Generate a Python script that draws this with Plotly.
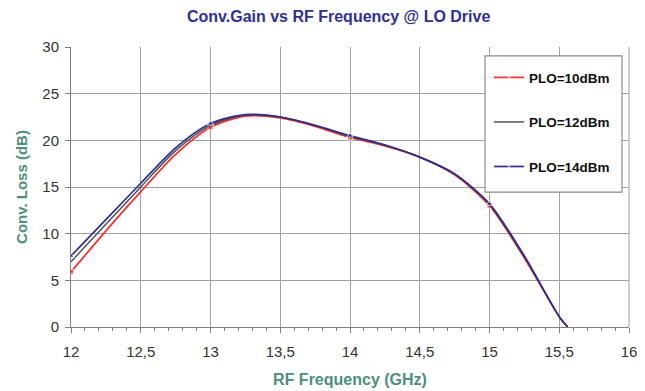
import plotly.graph_objects as go

# RF frequency sample points (GHz)
freq = [12.0, 12.25, 12.5, 12.75, 13.0, 13.25, 13.5, 13.75, 14.0, 14.25,
        14.5, 14.75, 15.0, 15.25, 15.5, 15.56]

# Conversion gain (dB) per LO drive level
plo10 = [5.9, 10.3, 14.5, 18.5, 21.4, 22.6, 22.4, 21.5, 20.3, 19.4,
         18.2, 16.3, 13.0, 7.4, 1.1, 0.0]
plo12 = [7.0, 11.0, 15.0, 18.9, 21.6, 22.7, 22.5, 21.6, 20.4, 19.5,
         18.2, 16.4, 13.1, 7.5, 1.1, 0.0]
plo14 = [7.6, 11.5, 15.4, 19.2, 21.8, 22.75, 22.5, 21.6, 20.5, 19.5,
         18.2, 16.4, 13.2, 7.6, 1.1, 0.0]

series_names = ["PLO=10dBm", "PLO=12dBm", "PLO=14dBm"]

x_tickvals = [12, 12.5, 13, 13.5, 14, 14.5, 15, 15.5, 16]
x_ticktext = ["12", "12,5", "13", "13,5", "14", "14,5", "15", "15,5", "16"]
y_tickvals = [0, 5, 10, 15, 20, 25, 30]

FONT = "Arial, Liberation Sans, sans-serif"

# markers only on the whole-GHz measurement points
def marker_sizes(size):
    return [size if float(f).is_integer() else 0 for f in freq]

fig = go.Figure()
fig.add_trace(go.Scatter(
    x=freq, y=plo10, name=series_names[0], mode="lines+markers", legendgroup="a",
    line=dict(color="#FF2A2A", width=1.7, shape="spline", smoothing=0.8),
    marker=dict(symbol="square", size=marker_sizes(5), color="#FF2A2A"),
))
fig.add_trace(go.Scatter(
    x=freq, y=plo12, name=series_names[1], mode="lines", legendgroup="b",
    line=dict(color="#4A4A4A", width=1.4, shape="spline", smoothing=0.8),
))
fig.add_trace(go.Scatter(
    x=freq, y=plo14, name=series_names[2], mode="lines+markers", legendgroup="c",
    line=dict(color="#2E2E8F", width=1.7, shape="spline", smoothing=0.8),
    marker=dict(symbol="triangle-up", size=marker_sizes(6), color="#2E2E8F"),
))

axis_font = dict(family=FONT, size=15, color="#333333")
title_col = "#4E8E7C"

fig.update_layout(
    width=645, height=391,
    margin=dict(l=71, r=16, t=47, b=64),
    paper_bgcolor="white", plot_bgcolor="white",
    title=dict(
        text="<b>Conv.Gain vs RF Frequency @ LO Drive</b>",
        x=0.525, xanchor="center", y=0.959, yanchor="middle",
        font=dict(family=FONT, size=16, color="#2E3192"),
    ),
    legend=dict(
        x=0.749, y=0.946, xanchor="left", yanchor="top",
        bgcolor="rgba(0,0,0,0)", borderwidth=0,
        font=dict(family=FONT, size=13.5, color="#111111", weight="bold"),
        tracegroupgap=24, itemwidth=30,
    ),
    xaxis=dict(
        range=[12, 16], tickvals=x_tickvals, ticktext=x_ticktext,
        automargin=False,
        showgrid=True, gridcolor="#A0A0A0", gridwidth=1,
        showline=True, linecolor="#808080", linewidth=1,
        ticks="outside", ticklen=5, tickcolor="#808080", ticklabelstandoff=6,
        minor=dict(dtick=0.1, tick0=12, ticks="outside", ticklen=3, tickcolor="#808080", showgrid=False),
        tickfont=axis_font, zeroline=False,
        title=dict(text="<b>RF Frequency (GHz)</b>", standoff=14,
                   font=dict(family=FONT, size=16, color=title_col)),
    ),
    yaxis=dict(
        range=[0, 30], tickvals=y_tickvals,
        automargin=False,
        showgrid=True, gridcolor="#A0A0A0", gridwidth=1,
        showline=True, linecolor="#808080", linewidth=1,
        ticks="outside", ticklen=5, tickcolor="#808080", ticklabelstandoff=3,
        tickfont=axis_font, zeroline=False,
        title=dict(text="<b>Conv. Loss (dB)</b>", standoff=11,
                   font=dict(family=FONT, size=15, color=title_col)),
    ),
)
# right border of the plot area
fig.add_shape(type="line", xref="paper", yref="paper", x0=1, x1=1, y0=0, y1=1,
              line=dict(color="#A0A0A0", width=1))
# legend frame
fig.add_shape(type="rect", xref="paper", yref="paper", layer="above",
              x0=0.742, x1=0.9875, y0=0.482, y1=0.968,
              fillcolor="white", line=dict(color="#8C8C8C", width=1.2))

fig.write_html("out.html")
